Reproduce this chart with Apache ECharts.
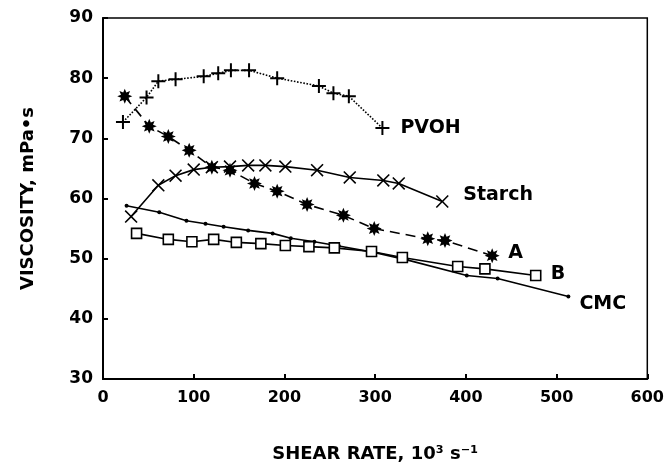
<!DOCTYPE html>
<html>
<head>
<meta charset="utf-8">
<script src="https://cdn.jsdelivr.net/npm/echarts@6/dist/echarts.min.js"></script>
<style>
  html, body { margin: 0; padding: 0; background: #fff; }
  #chart { width: 667px; height: 468px; }
</style>
</head>
<body>
<div id="chart"></div>
<script>
// 数据
const xTicks = [0, 100, 200, 300, 400, 500, 600];
const yTicks = [30, 40, 50, 60, 70, 80, 90];

const pvohX = [22, 48, 61, 80, 111, 127, 141, 161, 192, 238, 254, 271, 308];
const pvohY = [72.7, 76.8, 79.5, 79.8, 80.3, 80.8, 81.3, 81.3, 80.0, 78.7, 77.5, 77.0, 71.7];

const starchX = [31, 61, 80, 100, 120, 140, 160, 179, 201, 236, 272, 309, 326, 374];
const starchY = [57.0, 62.2, 63.8, 64.8, 65.2, 65.3, 65.5, 65.5, 65.3, 64.7, 63.5, 63.0, 62.5, 59.5];

const aX = [24, 51, 72, 95, 120, 140, 167, 192, 225, 265, 299, 358, 377, 429];
const aY = [77.0, 72.0, 70.3, 68.0, 65.2, 64.7, 62.5, 61.2, 59.0, 57.2, 55.0, 53.3, 53.0, 50.5];

const bX = [37, 72, 98, 122, 147, 174, 201, 227, 255, 296, 330, 391, 421, 477];
const bY = [54.2, 53.2, 52.8, 53.2, 52.7, 52.5, 52.2, 52.0, 51.8, 51.2, 50.2, 48.7, 48.3, 47.2];

const cmcX = [26, 62, 92, 113, 133, 160, 187, 207, 233, 260, 300, 335, 401, 435, 513];
const cmcY = [58.8, 57.7, 56.3, 55.8, 55.3, 54.7, 54.2, 53.4, 52.8, 52.1, 51.0, 49.8, 47.2, 46.7, 43.7];

// 标记形状
const plusPath = 'path://M6,0L8,0L8,6L14,6L14,8L8,8L8,14L6,14L6,8L0,8L0,6L6,6Z';
const crossPath = 'path://M0,1.2L1.2,0L7,5.8L12.8,0L14,1.2L8.2,7L14,12.8L12.8,14L7,8.2L1.2,14L0,12.8L5.8,7Z';
const starPath = (() => {
    let d = 'path://';
    for (let k = 0; k < 16; k++) {
        const r = k % 2 === 0 ? 7 : 3.8;
        const a = k * Math.PI / 8;
        d += (k === 0 ? 'M' : 'L') + (7 + r * Math.sin(a)).toFixed(2) + ',' + (7 - r * Math.cos(a)).toFixed(2);
    }
    return d + 'Z';
})();

const zip = (xs, ys) => xs.map((x, i) => [x, ys[i]]);
const FONT = 'DejaVu Sans';

const makeSeries = (name, xs, ys, opts) => ({
    name: name,
    type: 'line',
    data: zip(xs, ys),
    symbol: opts.symbol,
    symbolSize: opts.size,
    showAllSymbol: true,
    lineStyle: { color: '#000', width: 1.6, type: opts.lineType || 'solid' },
    itemStyle: opts.item || { color: '#000', borderWidth: 0 },
    endLabel: {
        show: true,
        formatter: name,
        color: '#000',
        fontFamily: FONT,
        fontWeight: 'bold',
        fontSize: 19,
        distance: opts.dist,
        offset: [0, opts.dy],
    },
    z: opts.z || 2,
});

const chart = echarts.init(document.getElementById('chart'));

const option = {
    animation: false,
    backgroundColor: '#fff',
    grid: {
        left: 103, right: 12, top: 18, bottom: 88,
        show: true, borderColor: '#000', borderWidth: 1.5,
    },
    xAxis: {
        type: 'value',
        min: xTicks[0], max: xTicks[xTicks.length - 1], interval: 100,
        name: 'SHEAR RATE, 10³ s⁻¹',
        nameLocation: 'middle',
        nameGap: 66,
        nameTextStyle: { color: '#000', fontFamily: FONT, fontWeight: 'bold', fontSize: 18 },
        axisLine: { show: true, lineStyle: { color: '#000', width: 2 } },
        axisTick: { show: true, inside: true, length: 5, lineStyle: { color: '#000', width: 2 } },
        axisLabel: { color: '#000', fontFamily: FONT, fontWeight: 'bold', fontSize: 16, margin: 11 },
        splitLine: { show: false },
    },
    yAxis: {
        type: 'value',
        min: yTicks[0], max: yTicks[yTicks.length - 1], interval: 10,
        name: 'VISCOSITY, mPa•s',
        nameLocation: 'middle',
        nameGap: 66,
        nameTextStyle: { color: '#000', fontFamily: FONT, fontWeight: 'bold', fontSize: 18 },
        axisLine: { show: true, lineStyle: { color: '#000', width: 2 } },
        axisTick: { show: true, inside: true, length: 5, lineStyle: { color: '#000', width: 2 } },
        axisLabel: { color: '#000', fontFamily: FONT, fontWeight: 'bold', fontSize: 17, margin: 10 },
        splitLine: { show: false },
    },
    series: [
        makeSeries('PVOH', pvohX, pvohY, { symbol: plusPath, size: 14, lineType: 'dotted', dist: 18, dy: 0 }),
        makeSeries('Starch', starchX, starchY, { symbol: crossPath, size: 13, dist: 21, dy: -6 }),
        makeSeries('A', aX, aY, { symbol: starPath, size: 15, lineType: [10, 6], dist: 16, dy: -3 }),
        makeSeries('B', bX, bY, {
            symbol: 'rect', size: 10, dist: 15, dy: -1, z: 3,
            item: { color: '#fff', borderColor: '#000', borderWidth: 1.6 },
        }),
        makeSeries('CMC', cmcX, cmcY, { symbol: 'circle', size: 4, dist: 11, dy: 7 }),
    ],
};

chart.setOption(option);
</script>
</body>
</html>
